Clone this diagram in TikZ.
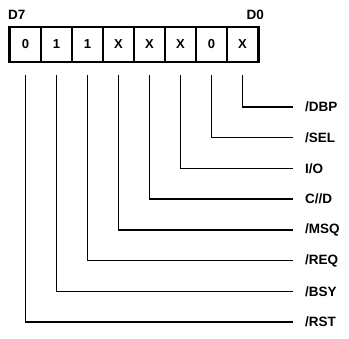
\documentclass[tikz,border=0pt]{standalone}
\usepackage{fontspec}
\setmainfont{Liberation Sans}
\usepackage{xcolor}

\begin{document}
\begin{tikzpicture}[x=1pt,y=-1pt,
        cell/.style={draw,line width=1.1pt,minimum width=31pt,minimum height=34pt,inner sep=0pt,font=\fontsize{13}{15}\selectfont\bfseries},
        sig/.style={anchor=west,inner sep=0pt,font=\fontsize{13.5}{15}\selectfont\bfseries},
        wire/.style={line width=1.4pt}]
        \useasboundingbox (0,0) rectangle (349,339);
        \node[anchor=west,inner sep=0pt,font=\fontsize{13.5}{15}\selectfont\bfseries] (d7) at (8,14.5) {D7};
        \node[anchor=east,inner sep=0pt,font=\fontsize{13.5}{15}\selectfont\bfseries] (d0) at (264,14.5) {D0};
        \foreach \b/\lab [count=\i from 0] in {0/{/RST},1/{/BSY},1/{/REQ},X/{/MSQ},X/{C//D},X/{I/O},0/{/SEL},X/{/DBP}}{
                \node[cell] (c\i) at (25.5+31*\i,44.5) {\b};
                \node[sig] (l\i) at (305,322-30.7*\i) {\lab};
                \coordinate (t\i) at ([yshift=-12.5pt]c\i.south);
                \coordinate (e\i) at ([xshift=-12pt]l\i.west);
                \draw[wire] (t\i) |- (e\i);
        }
        \draw[line width=2.2pt] (c0.north west) rectangle (c7.south east);
        \end{tikzpicture}
\end{document}
